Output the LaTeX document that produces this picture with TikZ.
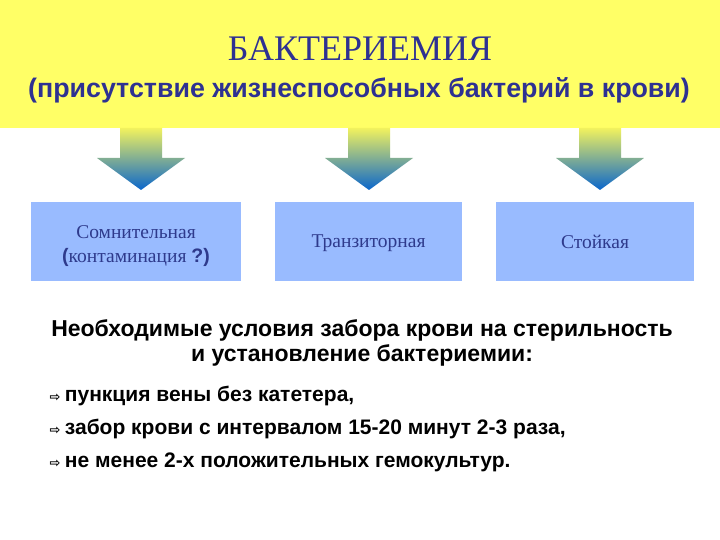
\documentclass[tikz,border=0pt]{standalone}
\usepackage{fontspec}
\setmainfont{Liberation Serif}
\setsansfont{Liberation Sans}
\newfontfamily\symfont{DejaVu Sans}
\usetikzlibrary{positioning}
\definecolor{bandyellow}{HTML}{FFFF66}
\definecolor{titleblue}{HTML}{2E3192}
\definecolor{boxblue}{HTML}{99BBFF}
\definecolor{boxtext}{HTML}{2E3A8C}
\definecolor{arrowtop}{HTML}{F2F25E}
\definecolor{arrowmid}{HTML}{8CB88A}
\definecolor{arrowbot}{HTML}{0A66CC}
\tikzset{
    x=1pt, y=-1pt, % pixel-like coordinates, y downwards
    catbox/.style={fill=boxblue, minimum height=79pt},
    boxlabel/.style={align=center, text=boxtext, font=\fontsize{19.5}{24}\selectfont},
    pointtext/.style={anchor=west, font=\sffamily\bfseries\fontsize{21}{22}\selectfont},
}
\newcommand{\pointmark}{{\symfont\fontsize{13}{13}\selectfont ⇨}\hspace{4.5pt}}

\begin{document}
\begin{tikzpicture}
    \useasboundingbox (0,0) rectangle (720,540);
    \fill[white] (0,0) rectangle (720,540);
    \fill[bandyellow] (0,0) rectangle (720,128);

    \node[text=titleblue, font=\fontsize{36}{36}\selectfont] (title) at (360,49) {БАКТЕРИЕМИЯ};
    \node[text=titleblue, font=\sffamily\bfseries\fontsize{26.8}{27}\selectfont] (subtitle) at (359,90)
        {(присутствие жизнеспособных бактерий в крови)};

    % block arrows
    \foreach \x in {141,369,600}
        \shade[top color=arrowtop, middle color=arrowmid, bottom color=arrowbot]
            (\x-21,128) -- (\x+21,128) -- (\x+21,158) -- (\x+44,158) -- (\x,190)
            -- (\x-44,158) -- (\x-21,158) -- cycle;

    \node[catbox, minimum width=210pt] (dubious) at (136,241.5) {};
    \node[catbox, minimum width=187pt] (transient) at (368.5,241.5) {};
    \node[catbox, minimum width=198pt] (persistent) at (595,241.5) {};
    \node[boxlabel] at ([yshift=-4.5pt]dubious.center)
        {Сомнительная\\{\sffamily\bfseries(}контаминация {\sffamily\bfseries ?)}};
    \node[boxlabel] at ([yshift=-1.5pt]transient.center) {Транзиторная};
    \node[boxlabel] at (persistent.center) {Стойкая};

    \node[align=center, font=\sffamily\bfseries\fontsize{23}{25.5}\selectfont] (needs) at (362,343)
        {Необходимые условия забора крови на стерильность\\и установление бактериемии:};

    \node[pointtext] (p1) at (46,396) {\pointmark пункция вены без катетера,};
    \node[pointtext] (p2) at (46,429) {\pointmark забор крови с интервалом 15-20 минут 2-3 раза,};
    \node[pointtext] (p3) at (46,462) {\pointmark не менее 2-х положительных гемокультур.};
\end{tikzpicture}
\end{document}
